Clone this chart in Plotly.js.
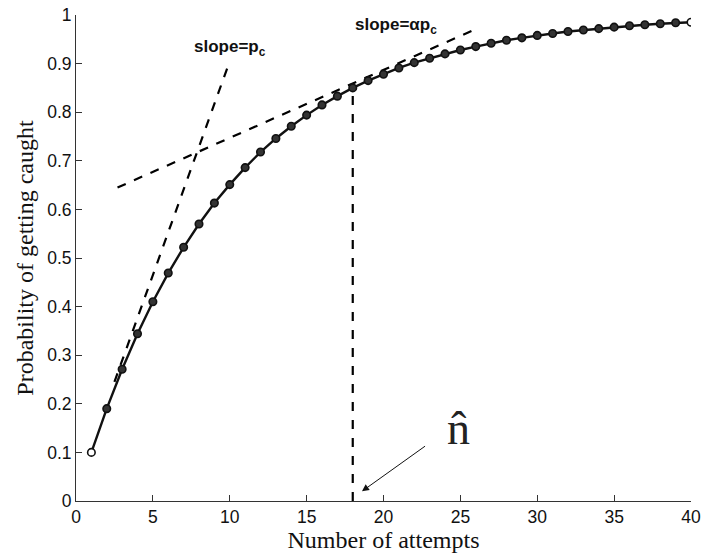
<!DOCTYPE html>
<html><head><meta charset="utf-8">
<script src="https://cdn.plot.ly/plotly-3.0.1.min.js"></script>
<style>html,body{margin:0;padding:0;background:#fff}</style>
</head><body><div id="chart" style="width:702px;height:556px"></div>
<script>
const attempts = [1,2,3,4,5,6,7,8,9,10,11,12,13,14,15,16,17,18,19,20,21,22,23,24,25,26,27,28,29,30,31,32,33,34,35,36,37,38,39,40];
const probCaught = [0.100,0.190,0.271,0.344,0.410,0.469,0.522,0.570,0.613,0.651,0.686,0.718,0.746,0.771,0.794,0.815,0.833,0.850,0.865,0.878,0.891,0.902,0.911,0.920,0.928,0.935,0.942,0.948,0.953,0.958,0.962,0.966,0.969,0.972,0.975,0.978,0.980,0.982,0.984,0.985];
const tangent1X = [2.5, 10];
const tangent1Y = [0.245, 0.905];
const tangent2X = [2.7, 26];
const tangent2Y = [0.645, 0.971];
const nHatX = [18, 18];
const nHatY = [0, 0.85];

const markerFill = attempts.map((a,i)=> (i===0||i===attempts.length-1) ? '#ffffff' : '#333333');

const dashLine = {color:'#000', width:2.2, dash:'dash'};
const traces = [
  {x:tangent1X, y:tangent1Y, mode:'lines', line:dashLine, hoverinfo:'skip'},
  {x:tangent2X, y:tangent2Y, mode:'lines', line:dashLine, hoverinfo:'skip'},
  {x:nHatX, y:nHatY, mode:'lines', line:dashLine, hoverinfo:'skip'},
  {x:attempts, y:probCaught, mode:'lines+markers',
   line:{color:'#111', width:2.4},
   marker:{size:7.5, color:markerFill, line:{color:'#111', width:1.6}}}
];
const serif = 'Liberation Serif, Times New Roman, serif';
const layout = {
  width:702, height:556, showlegend:false,
  paper_bgcolor:'#fff', plot_bgcolor:'#fff',
  margin:{l:76, r:11, t:15, b:55},
  font:{family:'Liberation Sans, Arial, sans-serif', size:17.5, color:'#111'},
  xaxis:{range:[0,40], tickvals:[0,5,10,15,20,25,30,35,40], ticks:'inside', ticklen:6, tickcolor:'#333',
    showline:true, linecolor:'#333', linewidth:1, showgrid:false, zeroline:false,
    title:{text:'Number of attempts', font:{family:serif, size:24, color:'#111'}, standoff:2}},
  yaxis:{range:[0,1], tickvals:[0,0.1,0.2,0.3,0.4,0.5,0.6,0.7,0.8,0.9,1], ticktext:['0','0.1','0.2','0.3','0.4','0.5','0.6','0.7','0.8','0.9','1'],
    ticks:'inside', ticklen:6, tickcolor:'#333',
    showline:true, linecolor:'#333', linewidth:1, showgrid:false, zeroline:false,
    title:{text:'Probability of getting caught', font:{family:serif, size:24, color:'#111'}, standoff:6}},
  annotations:[
    {x:10, y:0.905, xref:'x', yref:'y', text:'<b>slope=p<sub>c</sub></b>', showarrow:false, xanchor:'center', yanchor:'bottom',
     font:{family:'Liberation Sans, Arial, sans-serif', size:17, color:'#111'}},
    {x:20.8, y:0.95, xref:'x', yref:'y', text:'<b>slope=αp<sub>c</sub></b>', showarrow:false, xanchor:'center', yanchor:'bottom',
     font:{family:'Liberation Sans, Arial, sans-serif', size:17, color:'#111'}},
    {x:18.6, y:0.02, ax:22.8, ay:0.115, xref:'x', yref:'y', axref:'x', ayref:'y', text:'', showarrow:true,
     arrowhead:2, arrowsize:1.4, arrowwidth:1, arrowcolor:'#111'},
    {x:24.85, y:0.15, xref:'x', yref:'y', text:'n̂', showarrow:false, xanchor:'center', yanchor:'middle',
     font:{family:serif, size:46, color:'#222'}}
  ]
};
Plotly.newPlot('chart', traces, layout, {displayModeBar:false, staticPlot:true});
</script></body></html>
